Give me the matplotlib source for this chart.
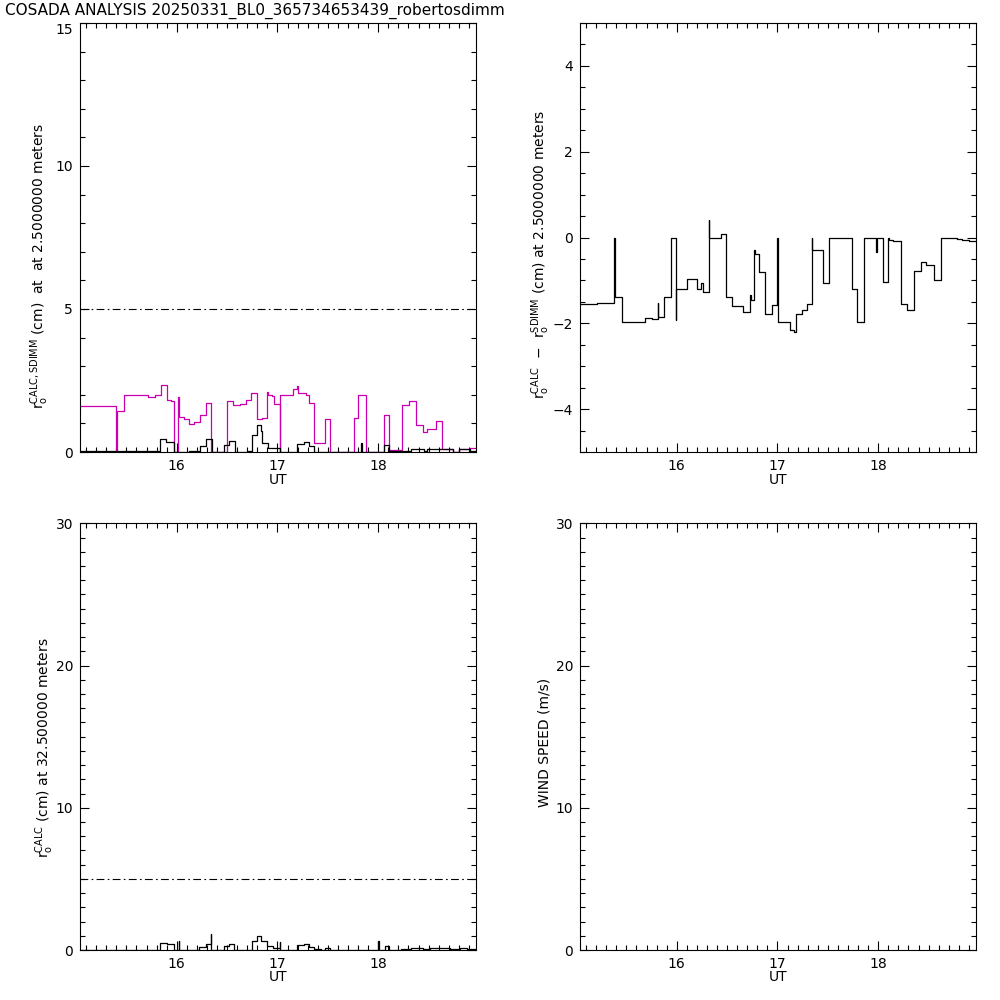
import matplotlib
matplotlib.use("Agg")
import matplotlib.pyplot as plt
from matplotlib.ticker import MultipleLocator
from matplotlib.transforms import ScaledTranslation

# UT hours where each step starts, and the step values (cm)
sdimm_t = [15.04, 15.40, 15.405, 15.48, 15.71, 15.78, 15.84, 15.90, 15.94, 15.97,
           16.015, 16.02, 16.07, 16.12, 16.17, 16.23, 16.29, 16.34, 16.50, 16.56,
           16.63, 16.69, 16.74, 16.80, 16.85, 16.90, 16.905, 16.95, 16.97, 17.02,
           17.025, 17.15, 17.19, 17.20, 17.28, 17.31, 17.36, 17.47, 17.52, 17.76,
           17.80, 17.88, 18.06, 18.11, 18.24, 18.31, 18.37, 18.44, 18.48, 18.52,
           18.57, 18.63, 18.74, 18.80, 18.91, 18.97]
sdimm_v = [1.61, 0.0, 1.43, 2.0, 1.93, 2.0, 2.34, 1.81, 1.77, 0.0,
           1.93, 1.22, 1.17, 0.98, 1.04, 1.31, 1.70, 0.0, 1.78, 1.63,
           1.67, 1.81, 2.06, 1.14, 1.20, 2.10, 2.0, 1.96, 1.67, 0.0,
           2.0, 2.2, 2.3, 2.06, 2.0, 1.72, 0.31, 1.14, 0.0, 1.19,
           1.99, 0.0, 1.29, 0.08, 1.64, 1.80, 0.93, 0.71, 0.80, 0.82,
           1.10, 0.11, 0.0, 0.10, 0.15, 0.15]

calc_t = [15.04, 15.83, 15.89, 15.97, 16.12, 16.23, 16.29, 16.35, 16.47, 16.52,
          16.58, 16.71, 16.75, 16.80, 16.84, 16.85, 16.91, 17.02, 17.19, 17.26,
          17.31, 17.36, 17.83, 17.835, 18.06, 18.11, 18.32, 18.45, 18.48, 18.61,
          18.74, 18.80, 18.91, 18.97]
calc_v = [0.03, 0.47, 0.35, 0.0, 0.03, 0.2, 0.44, 0.0, 0.24, 0.38,
          0.0, 0.04, 0.6, 0.93, 0.72, 0.31, 0.13, 0.01, 0.28, 0.35,
          0.2, 0.01, 0.3, 0.01, 0.26, 0.03, 0.1, 0.03, 0.1, 0.1,
          0.0, 0.1, 0.03, 0.03]

diff_t = [15.04, 15.21, 15.38, 15.385, 15.46, 15.69, 15.75, 15.81, 15.815, 15.87,
          15.94, 15.99, 15.995, 16.10, 16.20, 16.24, 16.26, 16.32, 16.325, 16.44,
          16.49, 16.55, 16.66, 16.73, 16.735, 16.77, 16.775, 16.82, 16.88, 16.95,
          17.00, 17.005, 17.12, 17.16, 17.18, 17.24, 17.29, 17.34, 17.345, 17.39,
          17.45, 17.51, 17.74, 17.79, 17.86, 17.98, 17.985, 18.05, 18.10, 18.105,
          18.15, 18.23, 18.29, 18.35, 18.42, 18.47, 18.55, 18.62, 18.72, 18.78,
          18.83, 18.90, 18.97]
diff_v = [-1.56, -1.53, 0.0, -1.38, -1.96, -1.88, -1.90, -1.53, -1.85, -1.38,
          0.0, -1.93, -1.19, -0.97, -1.2, -1.05, -1.28, 0.40, 0.0, 0.09,
          -1.38, -1.6, -1.73, -1.35, -1.46, -0.28, -0.39, -0.80, -1.78, -1.57,
          0.0, -1.96, -2.16, -2.2, -1.78, -1.68, -1.55, 0.0, -0.30, -0.28,
          -1.05, 0.0, -1.21, -1.97, 0.0, -0.33, 0.0, -1.03, 0.0, -0.06,
          -0.08, -1.55, -1.70, -0.78, -0.57, -0.64, -1.0, -0.02, 0.0, -0.03,
          -0.06, -0.09, -0.09]

calc32_t = [15.04, 15.83, 15.90, 15.97, 16.02, 16.025, 16.22, 16.29, 16.34, 16.345,
            16.47, 16.52, 16.57, 16.75, 16.80, 16.84, 16.90, 16.96, 17.02, 17.025,
            17.19, 17.26, 17.31, 17.36, 17.43, 17.47, 17.52, 18.00, 18.005, 18.07,
            18.11, 18.23, 18.32, 18.44, 18.51, 18.71, 18.81, 18.88, 18.97]
calc32_v = [0.02, 0.5, 0.43, 0.0, 0.6, 0.02, 0.2, 0.45, 1.1, 0.02,
            0.3, 0.45, 0.02, 0.6, 0.97, 0.66, 0.26, 0.17, 0.55, 0.02,
            0.35, 0.4, 0.24, 0.08, 0.02, 0.12, 0.02, 0.6, 0.02, 0.26,
            0.02, 0.07, 0.12, 0.05, 0.12, 0.04, 0.12, 0.05, 0.05]

title = "COSADA ANALYSIS 20250331_BL0_365734653439_robertosdimm"
xlim = (15.04, 18.97)
magenta = "#c800b0"

plt.rcParams['font.family'] = 'DejaVu Sans'
plt.rcParams['mathtext.fontset'] = 'dejavusans'

fig = plt.figure(figsize=(10, 10), dpi=100)

def setup(ax, ylim, major, minor):
    ax.set_xlim(*xlim)
    ax.set_ylim(*ylim)
    ax.xaxis.set_major_locator(MultipleLocator(1))
    ax.xaxis.set_minor_locator(MultipleLocator(0.1))
    ax.yaxis.set_major_locator(MultipleLocator(major))
    ax.yaxis.set_minor_locator(MultipleLocator(minor))
    ax.tick_params(which='both', direction='in', top=True, right=True,
                   width=0.8, labelsize=10, pad=5)
    ax.tick_params(which='major', length=6.5)
    ax.tick_params(which='minor', length=3.5)
    for s in ax.spines.values():
        s.set_linewidth(0.8)
    ax.set_xlabel("UT", fontsize=10)
    ax.xaxis.set_label_coords(0.5, -0.048)

ax1 = fig.add_axes([0.080, 0.548, 0.396, 0.429])
ax2 = fig.add_axes([0.580, 0.548, 0.396, 0.429])
ax3 = fig.add_axes([0.080, 0.050, 0.396, 0.4267])
ax4 = fig.add_axes([0.580, 0.050, 0.396, 0.4267])

setup(ax1, (0, 15), 5, 1)
setup(ax2, (-5, 5), 2, 0.5)
setup(ax3, (0, 30), 10, 1)
setup(ax4, (0, 30), 10, 1)

dashdot = (0, (7, 3, 1.5, 3))

# top left: r0 from CALC and SDIMM at 2.5 m
ax1.plot(sdimm_t, sdimm_v, drawstyle='steps-post', color=magenta, lw=0.9)
ax1.plot(calc_t, calc_v, drawstyle='steps-post', color='black', lw=0.9)
ax1.axhline(5, color='black', lw=0.8, linestyle=dashdot)

# top right: difference
ax2.plot(diff_t, diff_v, drawstyle='steps-post', color='black', lw=0.9)

# bottom left: CALC at 32.5 m
ax3.plot(calc32_t, calc32_v, drawstyle='steps-post', color='black', lw=0.9)
ax3.axhline(5, color='black', lw=0.8, linestyle=dashdot)

# y labels placed like the original
fig.text(0.040, 1 - 0.266, r"r$_{\rm o}^{\rm CALC,SDIMM}$ (cm)  at  at 2.5000000 meters",
         rotation=90, ha='center', va='center', fontsize=10)
fig.text(0.541, 1 - 0.254, r"r$_{\rm o}^{\rm CALC}$  $-$  r$_{\rm o}^{\rm SDIMM}$ (cm) at 2.5000000 meters",
         rotation=90, ha='center', va='center', fontsize=10)
fig.text(0.045, 1 - 0.748, r"r$_{\rm o}^{\rm CALC}$ (cm) at 32.500000 meters",
         rotation=90, ha='center', va='center', fontsize=10)
fig.text(0.545, 1 - 0.742, "WIND SPEED (m/s)",
         rotation=90, ha='center', va='center', fontsize=10)

fig.text(0.005, 0.989, title, ha='left', va='center', fontsize=11)

# the top "15" label sits a little below the axis top, clear of the title
fig.canvas.draw()
for lab in ax1.get_yticklabels():
    if lab.get_text() == "15":
        lab.set_transform(lab.get_transform() + ScaledTranslation(0, -4 / 72, fig.dpi_scale_trans))

fig.savefig("out.png", dpi=100)
